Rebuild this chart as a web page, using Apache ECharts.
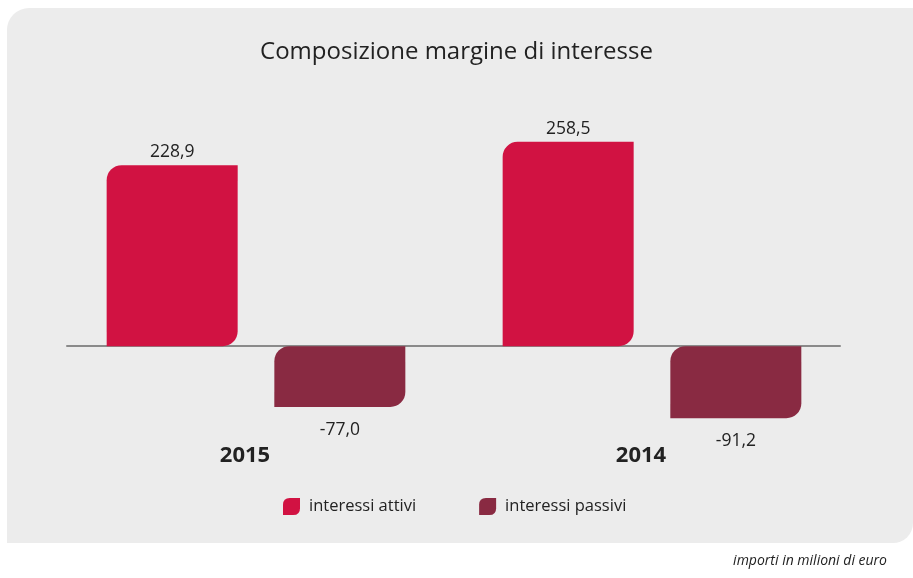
<!DOCTYPE html>
<html><head><meta charset="utf-8">
<script src="https://cdn.jsdelivr.net/npm/echarts@6/dist/echarts.min.js"></script>
<style>html,body{margin:0;padding:0;background:#fff}#c{width:913px;height:578px}</style>
</head><body><div id="c"></div>
<script>
var categories = ['2015', '2014'];
var attivi = [228.9, 258.5];
var passivi = [-77.0, -91.2];
var seriesNames = ['interessi attivi', 'interessi passivi'];
var titleText = 'Composizione margine di interesse';
var noteText = 'importi in milioni di euro';

var FONT = '"Open Sans", Lato, sans-serif';
var leaf = 'path://M4,0 L10,0 L10,6 Q10,10 6,10 L0,10 L0,4 Q0,0 4,0 Z';
function fmt(v){ return v.toFixed(1).replace('.', ','); }

var chart = echarts.init(document.getElementById('c'), null, {renderer:'canvas'});
chart.setOption({
  backgroundColor: '#ffffff',
  animation: false,
  graphic: [{
    type: 'rect', z: -10, silent: true,
    shape: {x: 7, y: 8, width: 906, height: 535, r: [22, 0, 20, 0]},
    style: {fill: '#ececec'}
  }],
  title: [{
    text: titleText, left: 'center', top: 35,
    textStyle: {fontFamily: FONT, fontSize: 24, fontWeight: 'normal', color: '#222'}
  }, {
    text: noteText, right: 21, top: 549,
    textStyle: {fontFamily: FONT, fontSize: 14, fontStyle: 'italic', fontWeight: 'normal', color: '#222'}
  }],
  legend: {
    left: 283, top: 498, padding: 0,
    itemWidth: 17, itemHeight: 17, itemGap: 63,
    icon: leaf,
    textStyle: {fontFamily: FONT, fontSize: 16.5, color: '#222', padding: [2,0,0,4]},
    data: seriesNames
  },
  grid: [
    {left: 58, right: 63, top: 109, bottom: 137},
    {left: 67, right: 73, top: 109, bottom: 137}
  ],
  xAxis: [{
    type: 'category', gridIndex: 0, data: categories, position: 'bottom',
    axisLine: {show: false, onZero: false}, axisTick: {show: false},
    axisLabel: {fontFamily: FONT, fontSize: 22, fontWeight: 'bold', color: '#222', margin: 4, padding: [0, 22, 0, 0]}
  }, {
    type: 'category', gridIndex: 1, data: categories,
    axisLine: {show: true, onZero: true, lineStyle: {color: '#8a8a8a', width: 2}},
    axisTick: {show: false}, axisLabel: {show: false}
  }],
  yAxis: [{
    type: 'value', gridIndex: 0, min: -120, max: 300,
    show: false, splitLine: {show: false}
  }, {
    type: 'value', gridIndex: 1, min: -120, max: 300,
    show: false, splitLine: {show: false}
  }],
  series: [{
    name: seriesNames[0], type: 'bar', xAxisIndex: 0, yAxisIndex: 0,
    data: attivi, barWidth: 131, barGap: '28%',
    itemStyle: {color: '#d11242', borderRadius: [15, 0, 15, 0]},
    label: {show: true, position: 'top', distance: 4, formatter: function(p){return fmt(p.value);},
      fontFamily: FONT, fontSize: 17.5, color: '#222'}
  }, {
    name: seriesNames[1], type: 'bar', xAxisIndex: 0, yAxisIndex: 0,
    data: passivi, barWidth: 131, barGap: '28%',
    itemStyle: {color: '#892a42', borderRadius: [15, 0, 15, 0]},
    label: {show: true, position: 'bottom', distance: 14, formatter: function(p){return fmt(p.value);},
      fontFamily: FONT, fontSize: 17.5, color: '#222'}
  }]
});
</script></body></html>
